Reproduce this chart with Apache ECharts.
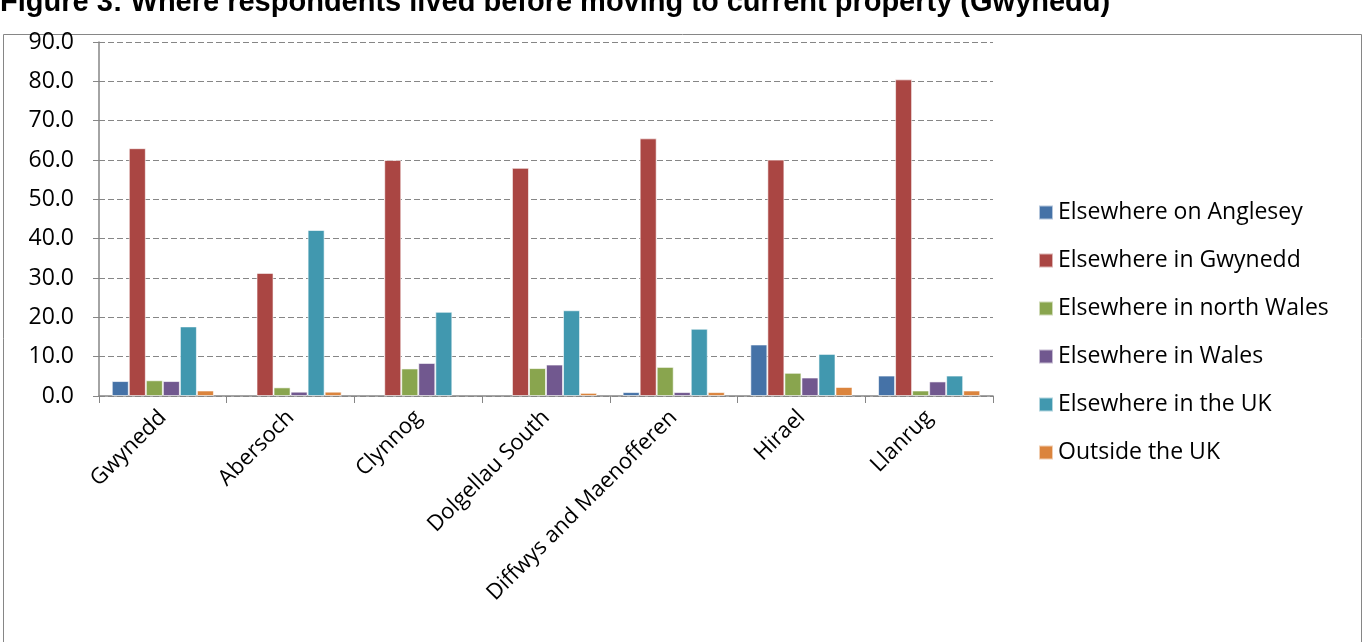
<!DOCTYPE html>
<html>
<head>
<meta charset="utf-8">
<script src="https://cdn.jsdelivr.net/npm/echarts@6/dist/echarts.min.js"></script>
<style>
html,body{margin:0;padding:0;background:#fff;overflow:hidden;}
#chart{width:1364px;height:642px;}
</style>
</head>
<body>
<div id="chart"></div>
<script>
const titleText = 'Figure 3: Where respondents lived before moving to current property (Gwynedd)';
const categories = ['Gwynedd','Abersoch','Clynnog','Dolgellau South','Diffwys and Maenofferen','Hirael','Llanrug'];
const seriesNames = ['Elsewhere on Anglesey','Elsewhere in Gwynedd','Elsewhere in north Wales','Elsewhere in Wales','Elsewhere in the UK','Outside the UK'];
const anglesey   = [3.8, 0,    0,    0,    1.0,  13.1, 5.2];
const gwynedd    = [63.0, 31.3, 60.0, 58.0, 65.5, 60.1, 80.5];
const northWales = [4.0, 2.2,  7.0,  7.1,  7.4,  5.9,  1.4];
const wales      = [3.8, 1.1,  8.4,  8.0,  1.0,  4.7,  3.7];
const uk         = [17.7, 42.2, 21.4, 21.8, 17.1, 10.7, 5.2];
const outside    = [1.4, 1.1,  0,    0.8,  1.0,  2.3,  1.4];
const seriesData = [anglesey, gwynedd, northWales, wales, uk, outside];
const colors = ['#4572A7','#AA4643','#89A54E','#71588F','#4198AF','#DB843D'];

const chart = echarts.init(document.getElementById('chart'));
const font = '"Open Sans", "Noto Sans", sans-serif';
chart.setOption({
  animation: false,
  textStyle: {fontFamily: font},
  graphic: [
    {type:'rect', shape:{x:3.5,y:34.5,width:1358,height:620}, style:{fill:'none',stroke:'#868686',lineWidth:1}, silent:true, z:-1},
    {type:'text', left:0, top:-12, style:{text:titleText, font:'bold 29px "Liberation Sans", Arial, sans-serif', fill:'#000'}}
  ],
  legend: {
    orient:'vertical', left:1033, top:196, itemGap:25, itemWidth:14, itemHeight:14,
    icon:'rect',
    textStyle:{fontSize:23, color:'#000', fontFamily:font},
    data: seriesNames
  },
  grid: {left:99, right:371, top:42, bottom:246, containLabel:false},
  xAxis: {
    type:'category', data:categories,
    axisLine:{lineStyle:{color:'#868686', width:1.5}},
    axisTick:{show:true, length:7, lineStyle:{color:'#868686'}},
    axisLabel:{rotate:45, fontSize:22, color:'#000', margin:18, interval:0, fontFamily:font}
  },
  yAxis: {
    type:'value', min:0, max:90, interval:10,
    axisLine:{show:true, lineStyle:{color:'#868686', width:1.5}},
    axisTick:{show:true, length:6, lineStyle:{color:'#868686'}},
    axisLabel:{fontSize:23, color:'#000', margin:25, formatter: v => v.toFixed(1), fontFamily:font},
    splitLine:{show:true, lineStyle:{color:'#868686', type:[6,3], width:1}}
  },
  series: seriesNames.map((n,i)=>({
    name:n, type:'bar',
    data: seriesData[i].map(v => v === 0 ? {value:v, itemStyle:{borderWidth:0}} : v),
    barGap:'0%', barCategoryGap:'20%',
    itemStyle:{color:colors[i], borderColor:'rgba(255,255,255,0.6)', borderWidth:1}
  }))
});
</script>
</body>
</html>
